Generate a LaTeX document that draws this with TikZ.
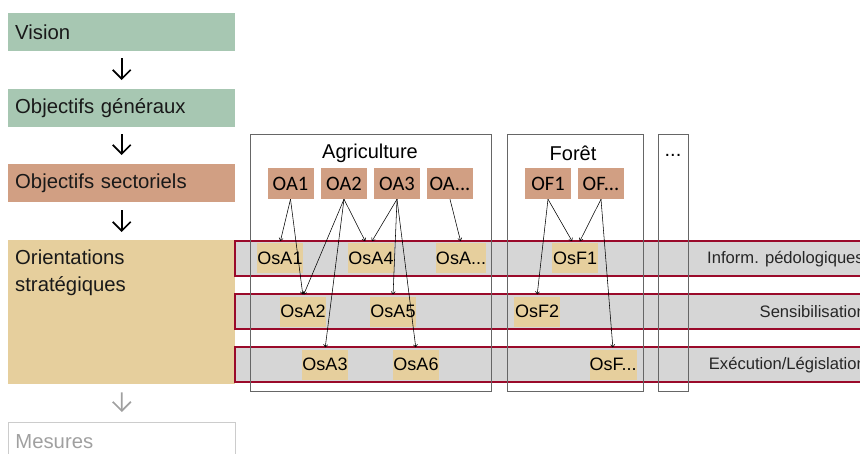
\documentclass[tikz,border=0pt]{standalone}
\usepackage{fontspec}
\setmainfont{Liberation Sans}
\newfontfamily\oafont{Carlito}
\usetikzlibrary{arrows.meta}
\definecolor{cgreen}{HTML}{A7C7B2}
\definecolor{csalmon}{HTML}{D19F83}
\definecolor{cbeige}{HTML}{E6CF9D}
\definecolor{cband}{HTML}{D6D6D6}
\definecolor{cred}{HTML}{9A0A2A}
\definecolor{cgreyline}{HTML}{666666}
\definecolor{cmuted}{HTML}{A0A0A0}
\begin{document}
\begin{tikzpicture}[x=1pt,y=-1pt,
  leftbox/.style={rectangle, anchor=north west, text width=213pt, inner xsep=7pt, inner ysep=0pt, minimum height=38pt, align=left, font=\fontsize{20.3}{22}\selectfont, text=black!90},
  bigarrow/.style={line width=1.7pt, -{Straight Barb[length=9pt,width=18pt]}},
  band/.style={draw=cred, line width=2.4pt, fill=cband},
  sector/.style={draw=cgreyline, line width=0.7pt},
  oanode/.style={rectangle, fill=csalmon, minimum width=46pt, minimum height=31pt, inner sep=0pt, font=\oafont\fontsize{20.5}{22}\selectfont},
  osnode/.style={rectangle, fill=cbeige, minimum width=46pt, minimum height=30pt, inner sep=0pt, font=\fontsize{18}{20}\selectfont},
  bandlabel/.style={anchor=east, inner sep=0pt, font=\fontsize{16.6}{18}\selectfont, text=black!85},
  sectitle/.style={font=\fontsize{20}{22}\selectfont, inner sep=0pt},
  link/.style={line width=0.55pt, -{To[length=3pt,width=4.5pt]}}
]
\useasboundingbox (0,0) rectangle (860,453);
\clip (0,0) rectangle (860,453);

% left column
\node[leftbox, fill=cgreen] (vision) at (8,13) {Vision};
\node[leftbox, fill=cgreen] (gen) at (8,89) {Objectifs généraux};
\node[leftbox, fill=csalmon] (sect) at (8,164) {Objectifs sectoriels};
\node[leftbox, fill=cbeige, minimum height=144pt] (orient) at (8,240) {};
\node[anchor=north west, align=left, inner sep=0pt, font=\fontsize{20.3}{26.5}\selectfont, text=black!90] (orienttxt) at (15,250) {Orientations\\stratégiques};
\node[leftbox, draw=black!20, line width=0.8pt, text=cmuted, minimum height=40pt, anchor=north west, text height=12pt] (mesures) at (8,422) {Mesures};

\draw[bigarrow, shorten <=7pt, shorten >=9pt] (vision) -- (gen);
\draw[bigarrow, shorten <=7pt, shorten >=9pt] (gen) -- (sect);
\draw[bigarrow, shorten <=8pt, shorten >=8pt] (sect) -- (orient);
\draw[bigarrow, draw=cmuted, shorten <=8pt, shorten >=10pt] (orient.south) -- (mesures.north);

% bands
\draw[band] (235,241) rectangle (890,276);
\draw[band] (235,294) rectangle (890,329);
\draw[band] (235,347) rectangle (890,382);
\node[bandlabel] (l1) at (864,259) {Inform. pédologiques};
\node[bandlabel] (l2) at (866,312) {Sensibilisation};
\node[bandlabel] (l3) at (866,365) {Exécution/Législation};

% sector boxes
\draw[sector] (250,134) rectangle (491,391);
\draw[sector] (507,134) rectangle (643,391);
\draw[sector] (658,134) rectangle (688,391);
\node[sectitle] (agri) at (370,153) {Agriculture};
\node[sectitle] (foret) at (573,153) {Forêt};
\node[sectitle] (more) at (673,155) {...};

% objective nodes
\node[oanode] (oa1) at (290.5,183.5) {OA1};
\node[oanode] (oa2) at (344,183.5) {OA2};
\node[oanode] (oa3) at (397,183.5) {OA3};
\node[oanode] (oax) at (450,183.5) {OA...};
\node[oanode] (of1) at (548,183.5) {OF1};
\node[oanode] (ofx) at (601,183.5) {OF...};

% strategic orientation nodes
\node[osnode] (osa1) at (280,258) {OsA1};
\node[osnode] (osa4) at (371,258) {OsA4};
\node[osnode] (osax) at (461,258) {OsA...};
\node[osnode] (osf1) at (575,258) {OsF1};
\node[osnode] (osa2) at (303,311.5) {OsA2};
\node[osnode] (osa5) at (393,311.5) {OsA5};
\node[osnode] (osf2) at (537,311.5) {OsF2};
\node[osnode] (osa3) at (325,364.5) {OsA3};
\node[osnode] (osa6) at (416,364.5) {OsA6};
\node[osnode] (osfx) at (613,364.5) {OsF...};

% links
\draw[link, shorten >=2pt] (oa1.south) -- (osa1.north);
\draw[link, shorten >=2pt] (oa1.south) -- (osa2.north);
\draw[link, shorten >=2pt] (oa2.south) -- (osa2.north);
\draw[link, shorten >=2pt] (oa2.south) -- (osa3.north);
\draw[link, shorten >=2pt] (oa2.south) -- ([xshift=-5pt]osa4.north);
\draw[link, shorten >=2pt] (oa3.south) -- (osa4.north);
\draw[link, shorten >=2pt] (oa3.south) -- (osa5.north);
\draw[link, shorten >=2pt] (oa3.south) -- (osa6.north);
\draw[link, shorten >=2pt] (oax.south) -- (osax.north);
\draw[link, shorten >=2pt] (of1.south) -- ([xshift=-2pt]osf1.north);
\draw[link, shorten >=2pt] (of1.south) -- (osf2.north);
\draw[link, shorten >=2pt] (ofx.south) -- ([xshift=4pt]osf1.north);
\draw[link, shorten >=2pt] (ofx.south) -- (osfx.north);
\end{tikzpicture}
\end{document}
